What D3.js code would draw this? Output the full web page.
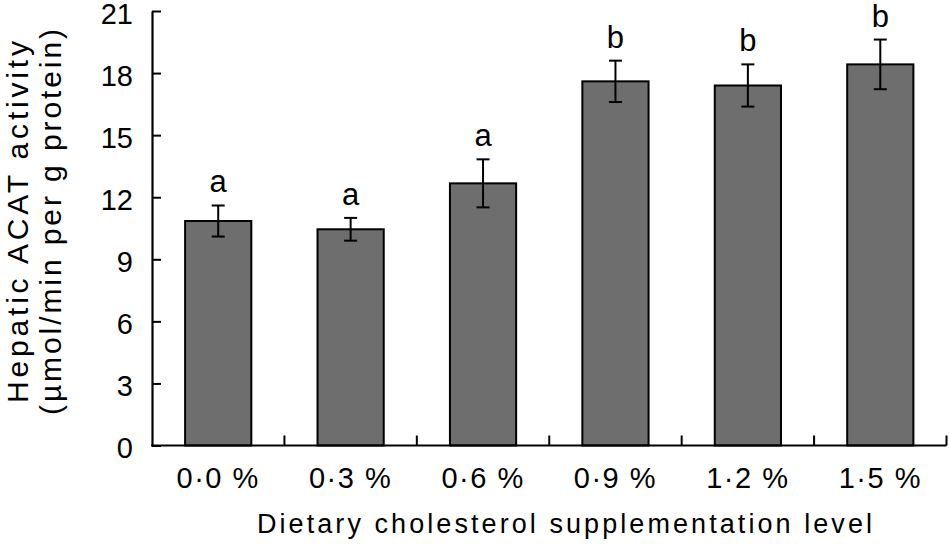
<!DOCTYPE html>
<html>
<head>
<meta charset="utf-8">
<script src="https://cdn.jsdelivr.net/npm/d3@7"></script>
<style>
  html, body { margin: 0; padding: 0; background: #fff; }
  svg { display: block; font-family: "Liberation Sans", Arial, sans-serif; }
</style>
</head>
<body>
<svg id="chart" width="949" height="545"></svg>
<script>
const categories = ["0\u00B70 %", "0\u00B73 %", "0\u00B76 %", "0\u00B79 %", "1\u00B72 %", "1\u00B75 %"];
const means = [10.85, 10.45, 12.67, 17.6, 17.4, 18.42];
const errors = [0.75, 0.55, 1.16, 1.0, 1.02, 1.2];
const letters = ["a", "a", "a", "b", "b", "b"];
const yTicks = [0, 3, 6, 9, 12, 15, 18, 21];
const xTitle = "Dietary cholesterol supplementation level";
const yTitle1 = "Hepatic ACAT activity";
const yTitle2 = "(\u00B5mol/min per g protein)";

(function () {
const svg = d3.select("#chart");
const pLeft = 152, pRight = 946.5, pTop = 11, pBottom = 445.5;

const x = d3.scaleBand().domain(categories).range([pLeft, pRight]).paddingInner(0.5).paddingOuter(0.25);
const y = d3.scaleLinear().domain([0, 21]).range([pBottom, pTop]);

const data = categories.map((c, i) => ({ c, m: means[i], e: errors[i], l: letters[i] }));

// bars
svg.append("g").selectAll("rect").data(data).join("rect")
  .attr("x", d => x(d.c))
  .attr("y", d => y(d.m))
  .attr("width", x.bandwidth())
  .attr("height", d => y(0) - y(d.m))
  .attr("fill", "#6e6e6e")
  .attr("stroke", "#000")
  .attr("stroke-width", 2);

// error bars
const eg = svg.append("g").attr("stroke", "#000").attr("stroke-width", 2);
data.forEach(d => {
  const cx = x(d.c) + x.bandwidth() / 2;
  eg.append("line").attr("x1", cx).attr("x2", cx).attr("y1", y(d.m + d.e)).attr("y2", y(d.m - d.e));
  eg.append("line").attr("x1", cx - 6.5).attr("x2", cx + 6.5).attr("y1", y(d.m + d.e)).attr("y2", y(d.m + d.e));
  eg.append("line").attr("x1", cx - 6.5).attr("x2", cx + 6.5).attr("y1", y(d.m - d.e)).attr("y2", y(d.m - d.e));
});

// letters
svg.append("g").selectAll("text").data(data).join("text")
  .attr("x", d => x(d.c) + x.bandwidth() / 2)
  .attr("y", d => y(d.m + d.e) - 13)
  .attr("text-anchor", "middle")
  .attr("font-size", 31)
  .attr("fill", "#000")
  .text(d => d.l);

// y axis
const yAxis = d3.axisLeft(y).tickValues(yTicks).tickSize(-9).tickPadding(19).tickSizeOuter(0);
const gy = svg.append("g").attr("transform", `translate(${pLeft},0)`).call(yAxis);
gy.select(".domain").attr("stroke-width", 2.2);
gy.selectAll(".tick line").attr("stroke-width", 2);
gy.selectAll(".tick text").attr("font-size", 29).attr("dy", "0.42em")
  .attr("font-family", "Liberation Sans, Arial, sans-serif").attr("fill", "#000");

// x axis
const gx = svg.append("g").attr("transform", `translate(0,${pBottom})`);
gx.append("line").attr("x1", pLeft - 1).attr("x2", pRight).attr("y1", 0).attr("y2", 0)
  .attr("stroke", "#000").attr("stroke-width", 2.2);
const step = x.step();
const bounds = categories.map((c) => x(c) - step * 0.25 + step);
gx.selectAll("line.sep").data(bounds).join("line").attr("class", "sep")
  .attr("x1", d => d).attr("x2", d => d).attr("y1", 0).attr("y2", -10)
  .attr("stroke", "#000").attr("stroke-width", 2);
gx.selectAll("text").data(categories).join("text")
  .attr("x", d => x(d) + x.bandwidth() / 2)
  .attr("y", 42)
  .attr("text-anchor", "middle")
  .attr("font-size", 29)
  .attr("letter-spacing", 1.5)
  .attr("fill", "#000")
  .text(d => d);

// x title
svg.append("text")
  .attr("x", 257).attr("y", 533)
  .attr("font-size", 27)
  .attr("textLength", 615).attr("lengthAdjust", "spacing")
  .attr("fill", "#000")
  .text(xTitle);

// y title
svg.append("text")
  .attr("transform", "translate(28,222) rotate(-90)")
  .attr("text-anchor", "middle")
  .attr("font-size", 30)
  .attr("textLength", 362).attr("lengthAdjust", "spacing")
  .attr("fill", "#000")
  .text(yTitle1);
svg.append("text")
  .attr("transform", "translate(61,222) rotate(-90)")
  .attr("text-anchor", "middle")
  .attr("font-size", 30)
  .attr("textLength", 386).attr("lengthAdjust", "spacing")
  .attr("fill", "#000")
  .text(yTitle2);
})();
</script>
</body>
</html>
